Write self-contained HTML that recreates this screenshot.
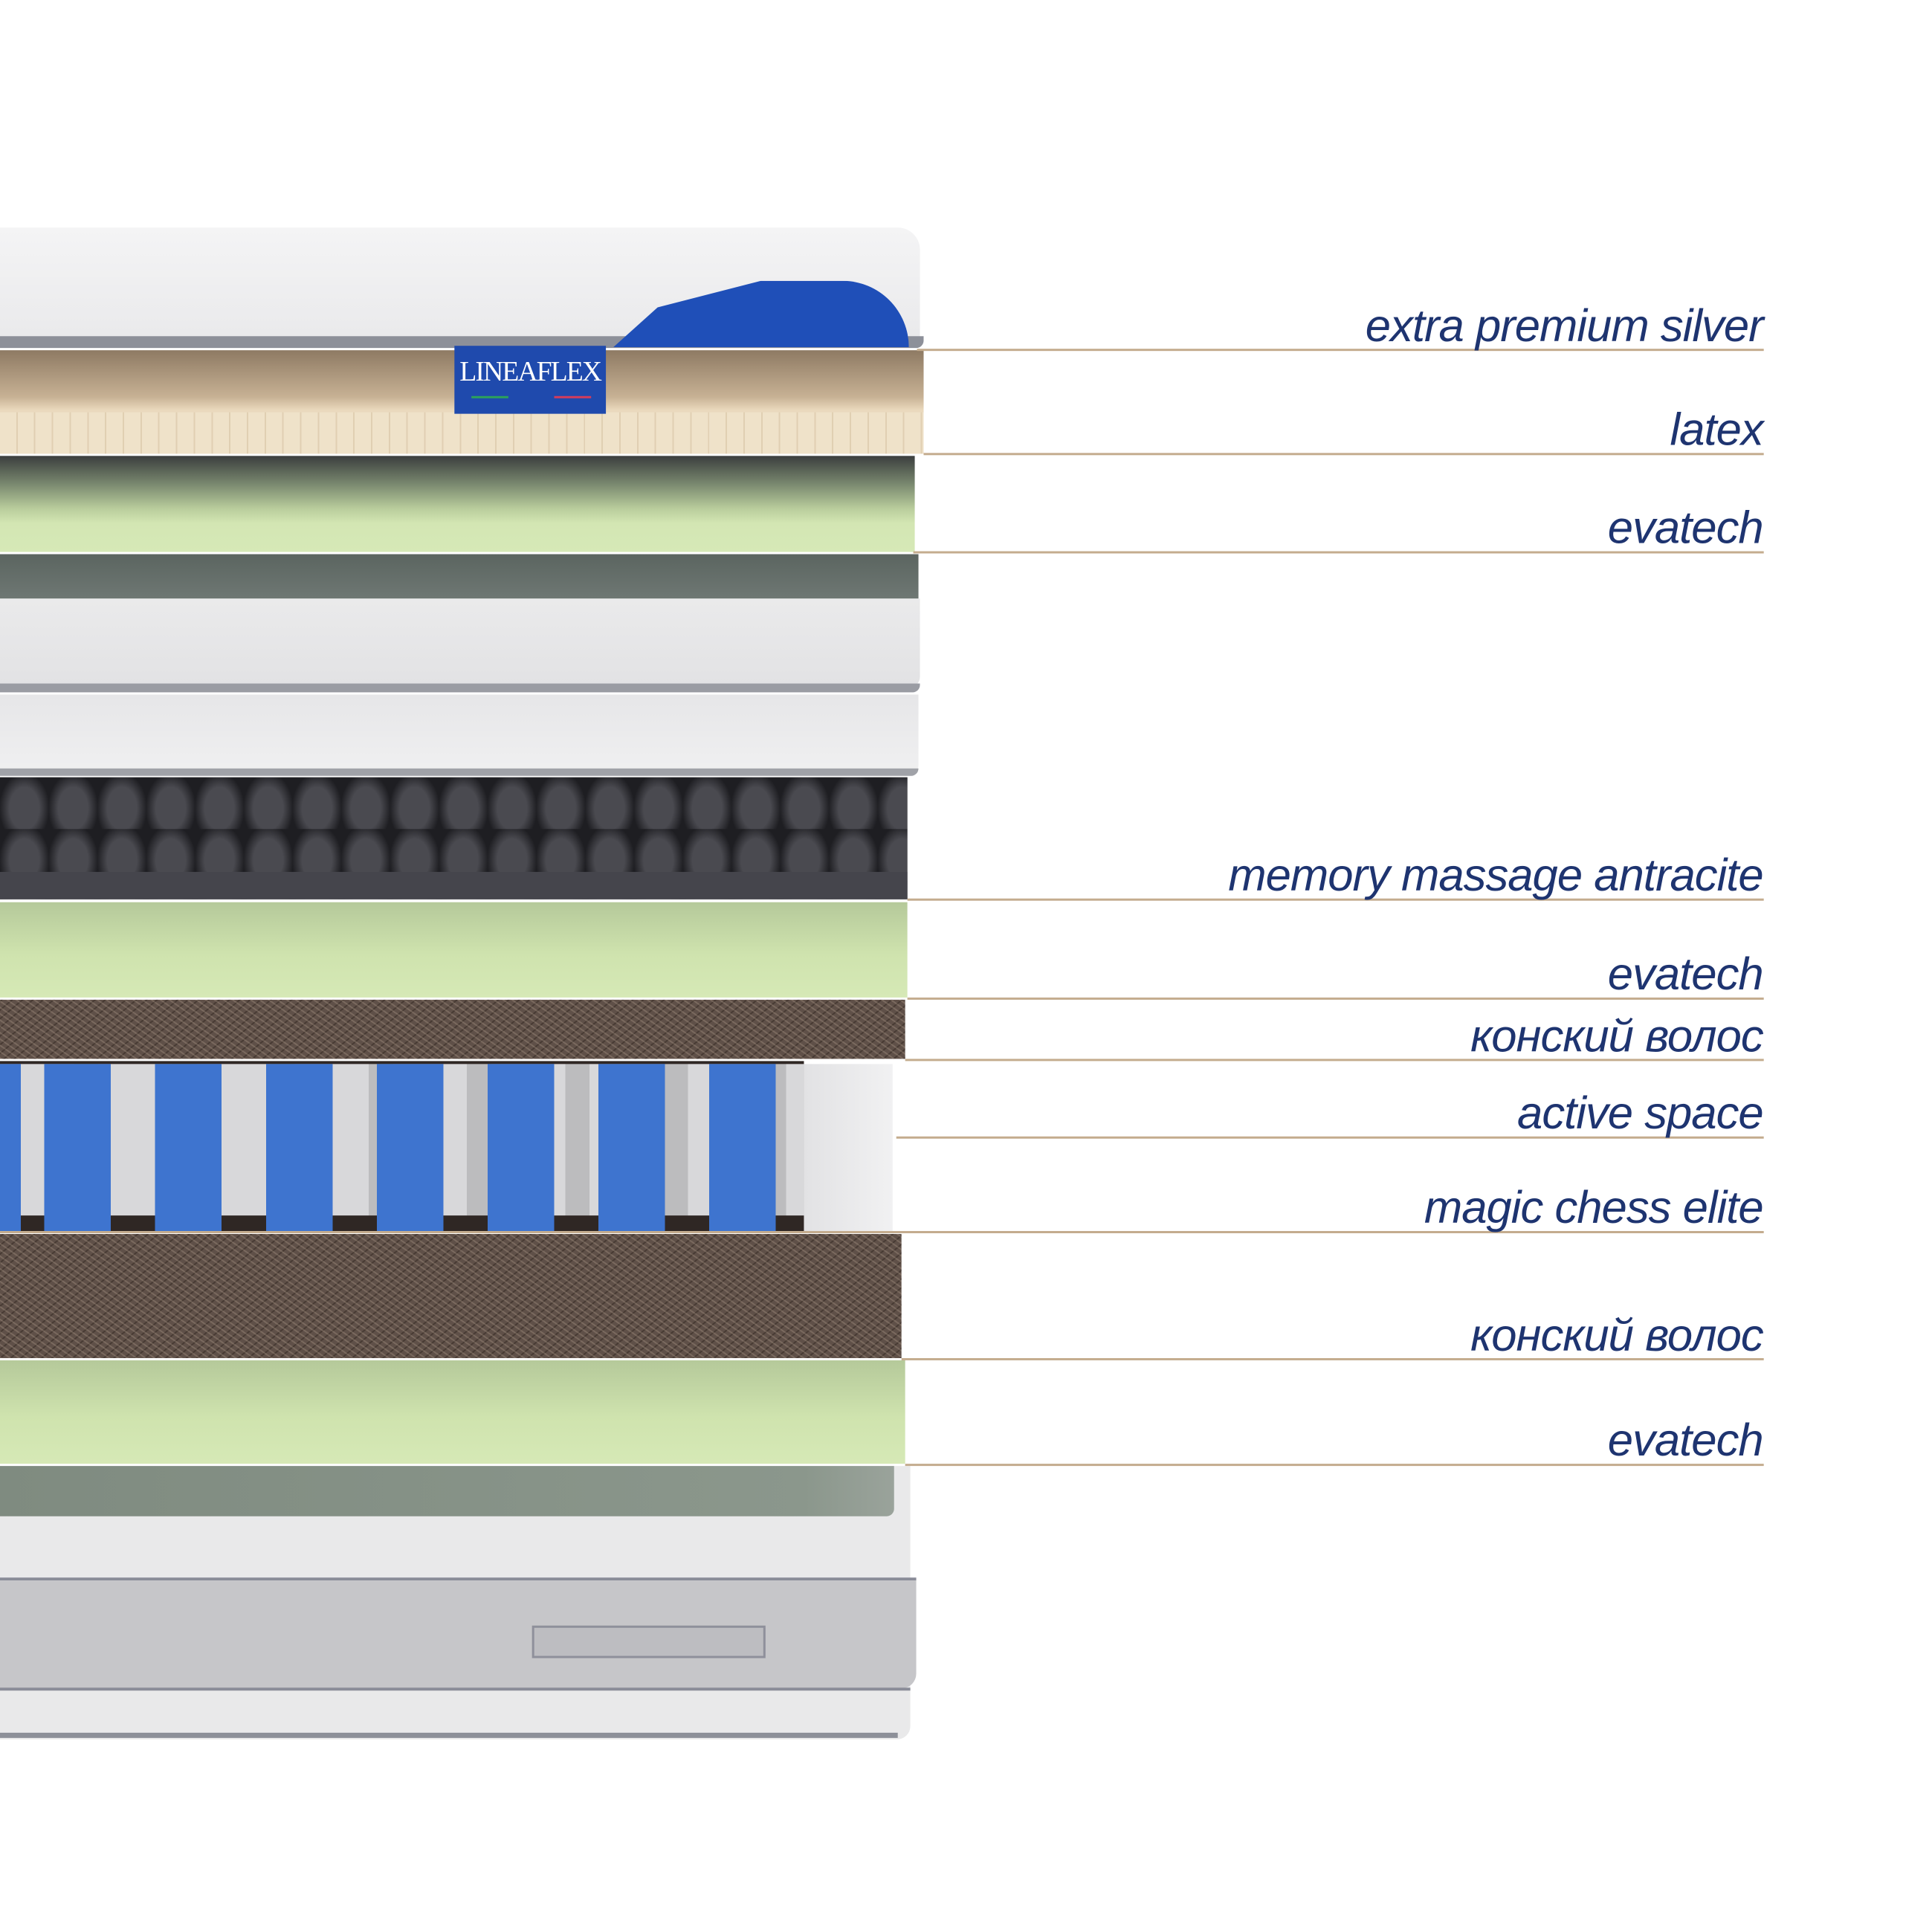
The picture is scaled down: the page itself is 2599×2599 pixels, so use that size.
<!DOCTYPE html>
<html><head><meta charset="utf-8"><style>
html,body{margin:0;padding:0;background:#fff}
body{width:2599px;height:2599px;position:relative;overflow:hidden}
#w{position:absolute;left:0;top:0;width:2599px;height:2599px;transform:scale(0.994);transform-origin:0 0}
.a{position:absolute}
.ln{position:absolute;height:3px;background:#c4ac8e}
.lb{position:absolute;right:213px;font-family:"Liberation Sans",sans-serif;font-style:italic;font-size:62px;color:#1e3470;white-space:nowrap;letter-spacing:-1px}
.hair{background:#5f5048;background-image:repeating-linear-gradient(35deg,rgba(200,180,160,.25) 0 2px,transparent 2px 7px),repeating-linear-gradient(-40deg,rgba(30,20,15,.35) 0 2px,transparent 2px 9px)}
.green{background:linear-gradient(#b5c99a,#cfe3ae 55%,#d6e9b6)}
</style></head><body><div id="w">

<div class="a" style="left:0;top:308px;width:1245px;height:160px;background:linear-gradient(#f4f4f5,#e9e9eb);border-radius:0 30px 0 0"></div>
<div class="a" style="left:0;top:455px;width:1250px;height:16px;background:#8d9099;border-radius:0 0 10px 0"></div>
<div class="a" style="left:830px;top:380px;width:400px;height:90px;background:#1f4fb8;border-radius:200px 200px 0 0;clip-path:polygon(0 100%,15% 40%,50% 0,100% 0,100% 100%,40% 100%)"></div>
<div class="a" style="left:0;top:474px;width:1250px;height:140px;background:linear-gradient(#8e7a63,#c7b194 45%,#ead9bd 58%,#efe2c9)"></div>
<div class="a" style="left:0;top:558px;width:1250px;height:56px;background:repeating-linear-gradient(90deg,#efe2c9 0 22px,#e0cfb2 22px 24px)"></div>
<div class="a" style="left:615px;top:468px;width:205px;height:92px;background:#1f4aad;color:#fff;font-family:'Liberation Serif',serif;font-size:38px;text-align:center;line-height:70px;letter-spacing:-2px">LINEAFLEX</div>
<div class="a" style="left:638px;top:536px;width:50px;height:3px;background:#2ca25a"></div>
<div class="a" style="left:750px;top:536px;width:50px;height:3px;background:#d33c5c"></div>
<div class="a" style="left:0;top:617px;width:1238px;height:130px;background:linear-gradient(#3b3e3e,#7b8a70 30%,#b9cd9c 55%,#d3e6b3 70%,#d6e9b7)"></div>
<div class="a" style="left:0;top:750px;width:1243px;height:62px;background:linear-gradient(#5b6560,#6f7874)"></div>
<div class="a" style="left:0;top:810px;width:1245px;height:120px;background:linear-gradient(#eaeaeb,#e2e2e4);border-radius:0 0 14px 0"></div>
<div class="a" style="left:0;top:925px;width:1245px;height:12px;background:#9a9ca3;border-radius:0 0 10px 0"></div>
<div class="a" style="left:0;top:940px;width:1243px;height:108px;background:linear-gradient(#e6e6e8,#f0f0f1);border-radius:0 0 12px 0"></div>
<div class="a" style="left:0;top:1040px;width:1243px;height:10px;background:#a0a2a8;border-radius:0 0 10px 0"></div>
<div class="a" style="left:0;top:1052px;width:1228px;height:165px;background:radial-gradient(ellipse 28px 40px at 50% 60%,#4a4a50 0 20px,#1e1e22 34px) 0 0/66px 70px,#26262b"></div>
<div class="a" style="left:0;top:1180px;width:1228px;height:37px;background:#45454c"></div>
<div class="a green" style="left:0;top:1221px;width:1228px;height:129px"></div>
<div class="a hair" style="left:0;top:1353px;width:1225px;height:80px"></div>
<div class="a" style="left:0;top:1436px;width:1088px;height:232px;background:#2f2724"></div>
<div class="a" style="left:0;top:1440px;width:1088px;height:205px;background:repeating-linear-gradient(90deg,#d8d8da 0 100px,#bcbcbe 100px 133px)"></div>
<div class="a" style="left:0;top:1440px;width:1088px;height:228px;background:repeating-linear-gradient(90deg,transparent 0 60px,#3e74cf 60px 150px,transparent 150px 133px),linear-gradient(90deg,#3e74cf 0 28px,transparent 28px)"></div>
<div class="a" style="left:1088px;top:1440px;width:120px;height:228px;background:linear-gradient(90deg,#e2e2e4,#f1f1f2)"></div>
<div class="a hair" style="left:0;top:1670px;width:1220px;height:168px"></div>
<div class="a green" style="left:0;top:1841px;width:1225px;height:140px"></div>
<div class="a" style="left:0;top:1984px;width:1232px;height:370px;background:#e9e9ea;border-radius:0 0 18px 0"></div>
<div class="a" style="left:0;top:1984px;width:1210px;height:68px;background:linear-gradient(90deg,#7f8b80,#8b978c 90%,#9aa39b);border-radius:0 0 10px 0"></div>
<div class="a" style="left:0;top:2135px;width:1240px;height:4px;background:#8a8c98"></div>
<div class="a" style="left:0;top:2139px;width:1240px;height:146px;background:#c6c6c9;border-radius:0 0 20px 0"></div>
<div class="a" style="left:0;top:2284px;width:1232px;height:4px;background:#8a8c98"></div>
<div class="a" style="left:720px;top:2200px;width:310px;height:38px;background:#bdbdc1;border:3px solid #8f909b"></div>
<div class="a" style="left:0;top:2345px;width:1215px;height:7px;background:#8d9099"></div>

<div class="ln" style="left:1241px;top:472px;width:1146px"></div>
<div class="ln" style="left:1250px;top:613px;width:1137px"></div>
<div class="ln" style="left:1236px;top:746px;width:1151px"></div>
<div class="ln" style="left:1228px;top:1216px;width:1159px"></div>
<div class="ln" style="left:1228px;top:1350px;width:1159px"></div>
<div class="ln" style="left:1225px;top:1433px;width:1162px"></div>
<div class="ln" style="left:1213px;top:1538px;width:1174px"></div>
<div class="ln" style="left:0;top:1666px;width:2387px"></div>
<div class="ln" style="left:1220px;top:1838px;width:1167px"></div>
<div class="ln" style="left:1225px;top:1981px;width:1162px"></div>

<div class="lb" style="top:406px">extra premium silver</div>
<div class="lb" style="top:546px">latex</div>
<div class="lb" style="top:679px">evatech</div>
<div class="lb" style="top:1149px">memory massage antracite</div>
<div class="lb" style="top:1283px">evatech</div>
<div class="lb" style="top:1367px">конский волос</div>
<div class="lb" style="top:1471px">active space</div>
<div class="lb" style="top:1599px">magic chess elite</div>
<div class="lb" style="top:1772px">конский волос</div>
<div class="lb" style="top:1914px">evatech</div>
</div></body></html>
